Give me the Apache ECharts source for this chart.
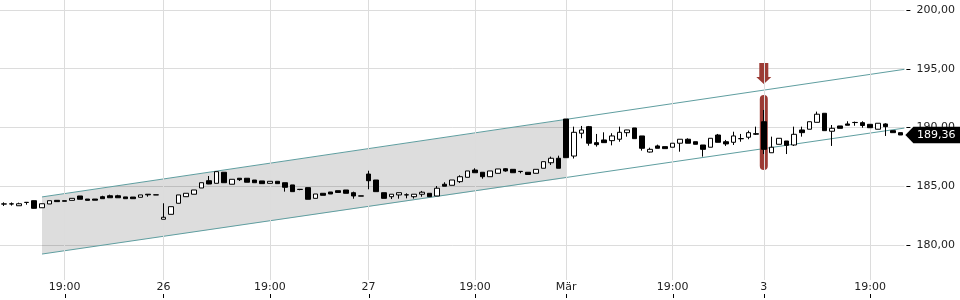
<!DOCTYPE html>
<html><head><meta charset="utf-8">
<script src="https://cdn.jsdelivr.net/npm/echarts@6/dist/echarts.min.js"></script>
<style>html,body{margin:0;padding:0;background:#fff}#c{width:960px;height:300px}</style>
</head><body><div id="c"></div>
<script>
// ---- data ----
const opens = [183.48,183.50,183.34,183.63,183.77,183.17,183.49,183.80,183.77,183.80,
184.17,183.91,183.91,184.11,184.19,184.19,184.09,184.08,184.06,184.32,
184.27,182.19,182.61,183.55,184.11,184.32,184.85,185.47,185.25,186.19,
185.17,185.68,185.68,185.53,185.45,185.25,185.42,185.30,185.11,184.74,
184.88,183.97,184.40,184.51,184.62,184.68,184.45,184.18,186.04,185.53,
184.45,184.11,184.26,184.27,184.11,184.32,184.40,184.17,185.17,185.08,
185.39,185.76,186.38,186.19,185.81,186.10,186.49,186.44,186.27,186.19,
186.10,186.53,187.00,187.38,190.72,187.57,189.51,190.07,188.71,188.94,
188.88,189.00,189.56,189.96,189.28,187.91,188.43,188.37,188.32,188.66,
189.00,188.79,188.51,188.32,189.36,188.79,188.74,189.04,189.17,189.47,
190.49,187.85,188.57,188.85,188.51,189.79,189.85,190.44,191.21,189.68,
190.13,190.30,190.43,190.41,190.27,189.85,190.30,189.73,189.56];
const closes = [183.50,183.49,183.51,183.62,183.12,183.51,183.77,183.69,183.72,183.97,
183.89,183.80,183.81,183.94,184.02,184.02,183.94,183.94,184.26,184.27,
184.26,182.36,183.26,184.26,184.40,184.68,185.30,185.19,186.24,185.30,
185.59,185.56,185.34,185.30,185.22,185.42,185.22,184.91,184.54,184.72,
183.89,184.34,184.23,184.34,184.47,184.40,184.17,184.16,185.47,184.54,
183.97,184.32,184.45,184.26,184.32,184.49,184.11,184.83,185.00,185.53,
185.81,186.30,186.15,185.81,186.30,186.47,186.30,186.15,186.25,186.00,
186.44,187.09,187.38,186.53,187.43,189.59,189.79,188.66,188.54,188.71,
189.28,189.59,189.79,189.05,188.23,188.14,188.23,188.20,188.66,189.00,
188.66,188.57,188.14,189.08,188.74,188.60,189.28,189.06,189.56,189.43,
188.14,188.32,189.08,188.48,189.42,189.56,190.49,191.13,189.73,189.93,
189.93,190.19,190.42,190.17,189.98,190.36,190.07,189.56,189.36];
const lows = [183.32,183.35,183.34,183.43,183.10,183.16,183.49,183.69,183.72,183.80,
183.89,183.80,183.81,183.94,184.02,184.02,183.94,183.94,184.06,184.11,
184.26,182.18,182.61,183.55,184.11,184.32,184.85,185.18,185.25,185.30,
185.17,185.45,185.34,185.30,185.22,185.25,185.22,184.54,184.54,184.66,
183.89,183.97,184.23,184.34,184.47,184.40,183.94,184.16,184.74,184.54,
183.97,183.91,183.94,183.97,183.95,184.11,184.11,184.17,185.00,185.08,
185.28,185.76,186.15,185.64,185.81,186.10,186.24,186.15,186.10,186.00,
186.10,186.53,186.81,186.53,187.43,187.36,189.08,188.45,188.37,188.70,
188.48,188.79,189.22,189.05,188.03,187.87,188.23,188.20,188.32,187.94,
188.66,188.57,187.52,188.32,188.74,188.43,188.51,188.79,189.00,189.36,
187.74,187.85,188.57,187.74,188.43,189.22,189.85,190.44,189.73,188.43,
189.93,190.19,190.15,189.98,189.98,189.85,189.28,189.56,189.36];
const highs = [183.63,183.62,183.60,183.64,183.78,183.52,183.77,183.80,183.77,183.97,
184.17,183.91,183.91,184.19,184.28,184.27,184.09,184.08,184.26,184.33,
184.27,183.55,183.26,184.26,184.40,184.68,185.30,185.87,186.24,186.19,
185.59,185.68,185.68,185.53,185.45,185.42,185.42,185.30,185.11,184.75,
184.88,184.34,184.40,184.51,184.62,184.68,184.54,184.18,186.32,185.53,
184.45,184.32,184.45,184.40,184.32,184.60,184.40,185.02,185.34,185.53,
185.93,186.30,186.53,186.19,186.30,186.47,186.53,186.44,186.28,186.19,
186.44,187.09,187.52,187.60,190.72,190.07,190.13,190.13,189.45,189.59,
189.51,190.07,189.80,189.96,189.28,188.28,188.54,188.37,188.66,189.00,
189.08,188.79,188.51,189.08,189.45,188.94,189.64,189.45,189.73,190.07,
191.49,189.22,189.08,188.85,190.07,190.07,190.49,191.35,191.21,190.21,
190.13,190.53,190.50,190.53,190.27,190.36,190.36,189.73,189.56];

const tickIndex  = [8, 21, 35, 48, 62, 74, 88, 100, 114];
const tickLabels = ['19:00', '26', '19:00', '27', '19:00', 'Mär', '19:00', '3', '19:00'];
const yTicks = [180, 185, 190, 195, 200];

// trend channel (x in candle index units)
const channelUpper = [[5.03, 184.09], [118.5, 194.95]];
const channelLower = [[5.03, 179.23], [118.5, 189.95]];
const bandStart = [5.03, 179.23, 184.09];
const bandEnd   = [74.07, 185.71, 190.67];

// highlighted candle marker
const markerIndex = 100;
const markerTop = 192.77, markerBottom = 186.38;
const arrowTop = 195.49, arrowTip = 193.70;

const lastPrice = 189.36;
const axisEdge = 118.5;
const yMin = 177.02, yMax = 200.85;

// ---- chart ----
const FONT = 'DejaVu Sans';
const categories = opens.map((_, i) => String(i));
const candles = opens.map((o, i) => [o, closes[i], lows[i], highs[i]]);
const fmt = v => v.toFixed(2).replace('.', ',');
const showIdx = (i) => tickIndex.indexOf(i) >= 0;

const chart = echarts.init(document.getElementById('c'), null, {renderer: 'canvas'});
chart.setOption({
  animation: false,
  backgroundColor: '#fff',
  grid: {left: 0, right: 55.6, top: 0, bottom: 20, containLabel: false},
  xAxis: [
    {
      type: 'category', data: categories, boundaryGap: true,
      axisLine: {show: false}, axisTick: {show: false}, splitLine: {show: false},
      axisLabel: {
        interval: (i) => showIdx(i),
        formatter: (v, i) => tickLabels[tickIndex.indexOf(i)] || '',
        margin: 2, color: '#222', fontFamily: FONT, fontSize: 11
      }
    },
    {type: 'value', min: -0.5, max: 118.5, show: false}
  ],
  yAxis: {
    type: 'value', position: 'right', min: yMin, max: yMax,
    minInterval: 5, maxInterval: 5,
    axisLine: {show: false},
    axisTick: {show: false, customValues: yTicks},
    axisLabel: {customValues: yTicks, margin: 12, formatter: fmt, color: '#222',
                fontFamily: FONT, fontSize: 11},
    splitLine: {show: true, lineStyle: {color: '#dcdcdc', width: 1}}
  },
  series: [
    { // vertical grid lines
      type: 'line', xAxisIndex: 1, data: [], z: 0, silent: true,
      markLine: {
        silent: true, symbol: 'none', label: {show: false}, animation: false,
        lineStyle: {color: '#dcdcdc', width: 1, type: 'solid'},
        emphasis: {disabled: true},
        data: tickIndex.map(i => ({xAxis: i}))
      }
    },
    { // axis tick marks (x below labels, y right of plot)
      type: 'custom', xAxisIndex: 1, z: 1, silent: true, clip: false,
      data: [[0, yMin]],
      renderItem: (params, api) => {
        const children = [];
        const by = api.coord([0, yMin])[1];
        tickIndex.forEach(i => {
          const x = Math.round(api.coord([i, yMin])[0]) + 0.5;
          children.push({type: 'line', shape: {x1: x, y1: by + 14, x2: x, y2: by + 18},
                         style: {stroke: '#000', lineWidth: 1}});
        });
        yTicks.forEach(v => {
          const p = api.coord([axisEdge, v]);
          const y = Math.round(p[1]) + 0.5;
          children.push({type: 'line', shape: {x1: p[0] + 2, y1: y, x2: p[0] + 6, y2: y},
                         style: {stroke: '#000', lineWidth: 1}});
        });
        return {type: 'group', children};
      }
    },
    { // shaded channel band
      type: 'custom', xAxisIndex: 1, z: 1, silent: true, clip: false,
      data: [[bandStart[0], bandStart[1]]],
      renderItem: (params, api) => {
        const a = api.coord([bandStart[0], bandStart[2]]);
        const b = api.coord([bandEnd[0], bandEnd[2]]);
        const c = api.coord([bandEnd[0], bandEnd[1]]);
        const d = api.coord([bandStart[0], bandStart[1]]);
        return {type: 'polygon', shape: {points: [a, b, c, d]},
                style: {fill: 'rgba(0,0,0,0.135)'}};
      }
    },
    {
      type: 'line', xAxisIndex: 1, data: channelUpper, showSymbol: false, z: 3, silent: true,
      lineStyle: {color: '#5f9ea0', width: 1}
    },
    {
      type: 'line', xAxisIndex: 1, data: channelLower, showSymbol: false, z: 3, silent: true,
      lineStyle: {color: '#5f9ea0', width: 1}
    },
    { // red highlight marker
      type: 'custom', xAxisIndex: 1, z: 4, silent: true, clip: false,
      data: [[markerIndex, markerTop]],
      renderItem: (params, api) => {
        const t = api.coord([markerIndex, markerTop]);
        const b = api.coord([markerIndex, markerBottom]);
        const at = api.coord([markerIndex, arrowTop]);
        const tip = api.coord([markerIndex, arrowTip]);
        const x = t[0];
        return {type: 'group', children: [
          {type: 'rect', shape: {x: x - 4, y: t[1], width: 8, height: b[1] - t[1], r: 4},
           style: {fill: '#9c3b34'}},
          {type: 'polygon', shape: {points: [
            [x - 4.5, at[1]], [x + 4.5, at[1]], [x + 4.5, tip[1] - 7], [x + 7.5, tip[1] - 7],
            [x, tip[1]], [x - 7.5, tip[1] - 7], [x - 4.5, tip[1] - 7]]},
           style: {fill: '#9c3b34'}}
        ]};
      }
    },
    {
      type: 'candlestick', xAxisIndex: 0, data: candles, z: 5, barWidth: 5,
      silent: true,
      itemStyle: {color: '#fff', color0: '#000', borderColor: '#000', borderColor0: '#000', borderWidth: 1}
    },
    { // last price tag
      type: 'custom', xAxisIndex: 1, z: 10, silent: true, clip: false,
      data: [[axisEdge, lastPrice]],
      renderItem: (params, api) => {
        const p = api.coord([axisEdge, lastPrice]);
        const x0 = p[0] + 1, y = p[1], h = 8.3;
        return {type: 'group', children: [
          {type: 'polygon', shape: {points: [[x0, y], [x0 + 8, y - h], [975, y - h], [975, y + h], [x0 + 8, y + h]]},
           style: {fill: '#000'}},
          {type: 'text', style: {x: x0 + 11.5, y: y, text: fmt(lastPrice), fill: '#fff',
            font: '11px "' + FONT + '"', verticalAlign: 'middle', align: 'left'}}
        ]};
      }
    }
  ]
});
</script>
</body></html>
